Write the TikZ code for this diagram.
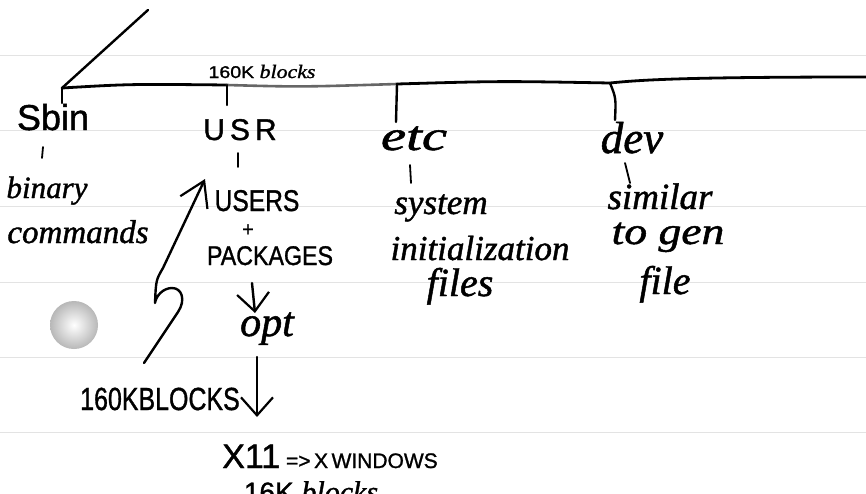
\documentclass[tikz,border=0pt]{standalone}
\usepackage{fontspec}
\usepackage{graphicx}
\setmainfont{Liberation Serif}[ItalicFeatures={FakeBold=1.2}]
\newfontfamily\blkfont{Liberation Sans}[FakeBold=1.2]
\usetikzlibrary{arrows.meta}
\newcommand{\fsz}[1]{\fontsize{#1}{#1}\selectfont}
\begin{document}
\begin{tikzpicture}[x=1pt,y=-1pt,
  curtxt/.style={inner sep=0pt,anchor=base,font=\itshape},
  captxt/.style={inner sep=0pt,anchor=base,font=\blkfont},
  pen/.style={line width=2.4pt,line cap=round,line join=round},
  thinpen/.style={line width=1.8pt,line cap=round},
  paperrule/.style={line width=0.9pt,black!11},
  barb/.style={-{Straight Barb[length=18pt,width=32pt,line width=2.2pt]}}]
\useasboundingbox (0,0) rectangle (866,493);
\fill[white] (0,0) rectangle (866,493);
\clip (0,0) rectangle (866,493);
% paper rules
\foreach \yy in {55,130,206,282,357,432}
  \draw[paperrule] (0,\yy) -- (866,\yy);
% main tree line
\coordinate (topend) at (148,10);
\coordinate (root) at (62,88);
\coordinate (rtick) at (62,103);
\coordinate (jusr) at (227,85);
\coordinate (jetc) at (397,84);
\coordinate (jdev) at (610,83);
\coordinate (rend) at (866,77);
\coordinate (tusr) at (227,105);
\coordinate (tetc) at (396,122);
\coordinate (tdev) at (615,120);
\draw[pen] (topend) -- (root);
\draw[pen,line width=2.8pt] (root) .. controls (130,84) .. (jusr);
\draw[pen,line width=2.6pt,black!60] (jusr) .. controls (300,87) .. (jetc);
\draw[pen,line width=2.8pt] (jetc) .. controls (500,81) .. (jdev) .. controls (640,80) and (680,77) .. (rend);
\draw[pen] (root) -- (rtick);
\draw[pen] (jusr) -- (tusr);
\draw[pen] (jetc) -- (tetc);
\draw[pen] (jdev) .. controls (616,98) .. (tdev);
\node[inner sep=0pt,anchor=base] (lbltop) at (262,78) {\scalebox{1.15}[1]{\blkfont\fsz{17}160K \itshape\rmfamily\fsz{19}blocks}};
% labels
\node[captxt] (sbin) at (53,130) {\fsz{36}Sbin};
\node[captxt] (usr) at (240,140) {\fsz{30}U\,S\,R};
\node[curtxt] (etc) at (414,150) {\scalebox{1.35}[1]{\fsz{42}etc}};
\node[curtxt] (dev) at (632,153) {\fsz{45}dev};
% ticks
\coordinate (s1) at (43,147); \coordinate (s2) at (42,158);
\coordinate (u1) at (238,153); \coordinate (u2) at (238,167);
\coordinate (e1) at (410,165); \coordinate (e2) at (411,183);
\coordinate (d1) at (625,163); \coordinate (d2) at (630,183);
\draw[thinpen] (s1) -- (s2);
\draw[thinpen] (u1) -- (u2);
\draw[thinpen] (e1) -- (e2);
\draw[thinpen] (d1) -- (d2);
% sub labels
\node[curtxt] (bin1) at (47,198) {\fsz{31}binary};
\node[curtxt] (bin2) at (78,243) {\fsz{33}commands};
\node[captxt] (users) at (257,211) {\scalebox{0.82}[1]{\fsz{30}USERS}};
\node[captxt] (plus) at (248,236) {\fsz{20}+};
\node[captxt] (pack) at (270,265) {\scalebox{0.86}[1]{\fsz{27}PACKAGES}};
\node[curtxt] (sys1) at (441,214) {\fsz{35}system};
\node[curtxt] (sys2) at (480,260) {\fsz{35}initialization};
\node[curtxt] (sys3) at (460,296) {\fsz{40}files};
\node[curtxt] (dev1) at (660,209) {\fsz{37}similar};
\node[curtxt] (dev2) at (668,244) {\scalebox{1.2}[1]{\fsz{38}to gen}};
\node[curtxt] (dev3) at (665,294) {\fsz{40}file};
\node[curtxt] (opt) at (267,336) {\fsz{42}opt};
\node[captxt] (blk1) at (160,410) {\scalebox{0.78}[1]{\fsz{32}160KBLOCKS}};
\node[captxt] (x11) at (330,468) {\fsz{34}X11\fsz{21} =>\,X\,WINDOWS};
\node[inner sep=0pt,anchor=base] (blk2) at (311,502) {\blkfont\fsz{28}16K \itshape\rmfamily\fsz{30}blocks};
% arrows
\coordinate (a1s) at (252,283); \coordinate (a1e) at (255,313);
\coordinate (a2s) at (257,357); \coordinate (a2e) at (257,417);
\draw[pen,barb] (a1s) -- (a1e);
\draw[pen,barb] (a2s) -- (a2e);
\coordinate (zs) at (144,363);
\coordinate (ztip) at (205,179);
\draw[pen,-{Straight Barb[length=24pt,width=30pt,line width=2.2pt]}] (zs) -- (178,312) .. controls (186,300) and (182,288) .. (172,288) .. controls (163,288) and (156,296) .. (155,303) .. controls (156,280) .. (163,268) -- (ztip);
% ball
\shade[inner color=white,outer color=black!28] (74,325) circle[radius=24pt];
\end{tikzpicture}
\end{document}
